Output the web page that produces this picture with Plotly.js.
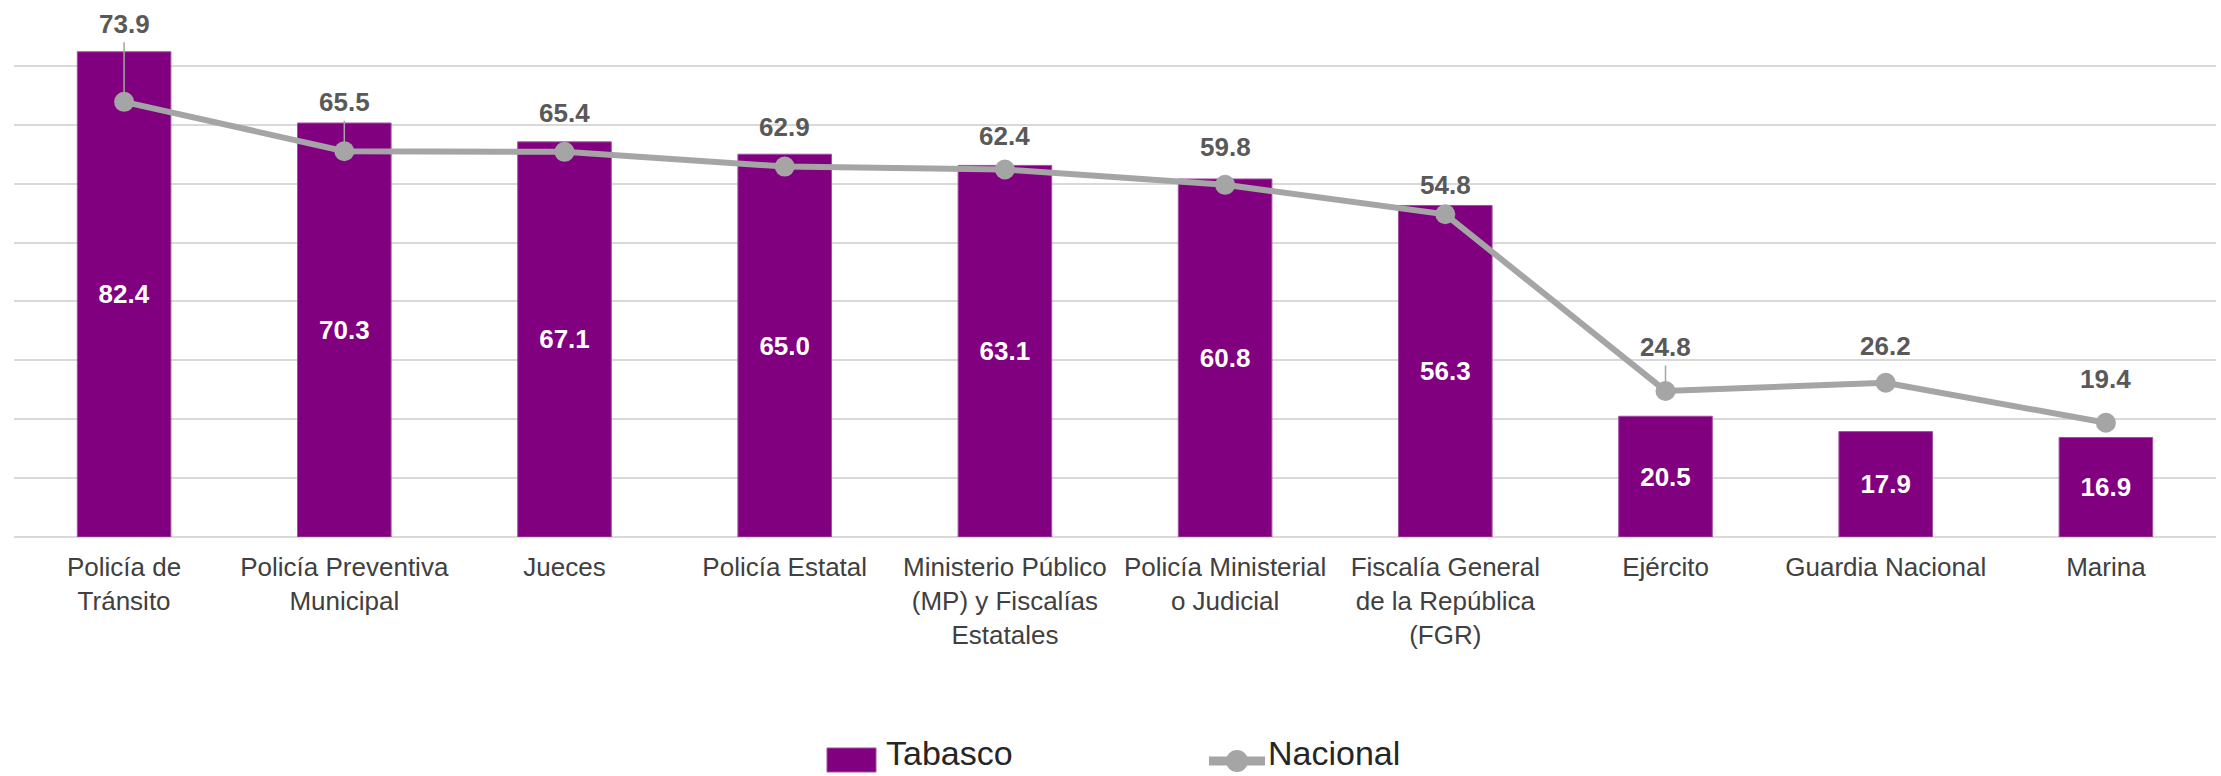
<!DOCTYPE html>
<html>
<head>
<meta charset="utf-8">
<script src="https://cdn.plot.ly/plotly-3.0.1.min.js"></script>
<style>
  html, body { margin: 0; padding: 0; background: #ffffff; overflow: hidden; }
  #chart { width: 2221px; height: 776px; }
</style>
</head>
<body>
<div id="chart"></div>
<script>
// ---- data ----
const categories = [
  "Policía de<br>Tránsito",
  "Policía Preventiva<br>Municipal",
  "Jueces",
  "Policía Estatal",
  "Ministerio Público<br>(MP) y Fiscalías<br>Estatales",
  "Policía Ministerial<br>o Judicial",
  "Fiscalía General<br>de la República<br>(FGR)",
  "Ejército",
  "Guardia Nacional",
  "Marina"
];
const tabasco  = [82.4, 70.3, 67.1, 65.0, 63.1, 60.8, 56.3, 20.5, 17.9, 16.9];
const nacional = [73.9, 65.5, 65.4, 62.9, 62.4, 59.8, 54.8, 24.8, 26.2, 19.4];
const seriesNames = ["Tabasco", "Nacional"];

// ---- style (label placement, px above each Nacional point) ----
const nacLabelLift = [78, 49, 39, 40, 34, 38, 29, 44, 37, 44];
const nacLeader    = [true, true, false, false, false, false, false, true, false, false];

const purple = "#800080";
const gray = "#a5a5a5";
const fontFam = "Liberation Sans, Arial, sans-serif";

const W = 2221, H = 776;
const M = { l: 14, r: 5, t: 7, b: 239 };
const pw = W - M.l - M.r, ph = H - M.t - M.b;
const px = v => (v - M.l) / pw;          // page px -> paper x
const py = v => (H - M.b - v) / ph;      // page px -> paper y

const traces = [
  {
    type: "bar",
    name: seriesNames[0],
    x: categories,
    y: tabasco,
    marker: { color: purple, line: { color: "#a050a0", width: 1 } },
    texttemplate: "%{y:.1f}",
    textposition: "inside",
    insidetextanchor: "middle",
    textangle: 0,
    constraintext: "none",
    textfont: { family: fontFam, size: 26, color: "#ffffff", weight: 700 },
    hoverinfo: "skip"
  },
  {
    type: "scatter",
    mode: "lines+markers",
    name: seriesNames[1],
    x: categories,
    y: nacional,
    line: { color: gray, width: 6 },
    marker: { color: gray, size: 20 },
    hoverinfo: "skip"
  }
];

const annotations = nacional.map((v, i) => {
  const a = {
    x: categories[i],
    y: v,
    xref: "x",
    yref: "y",
    text: v.toFixed(1),
    font: { family: fontFam, size: 26, color: "#595959", weight: 700 }
  };
  if (nacLeader[i]) {
    Object.assign(a, {
      showarrow: true, ax: 0, ay: -nacLabelLift[i],
      arrowhead: 0, arrowwidth: 1.5, arrowcolor: gray, standoff: 2, startstandoff: 2
    });
  } else {
    Object.assign(a, { showarrow: false, yshift: nacLabelLift[i] });
  }
  return a;
});

// ---- legend (drawn as shapes + text, Excel-style large swatches) ----
const legendFont = { family: fontFam, size: 34, color: "#262626" };
annotations.push(
  { xref: "paper", yref: "paper", x: px(884), y: py(753), xanchor: "left", yanchor: "middle",
    text: seriesNames[0], showarrow: false, font: legendFont },
  { xref: "paper", yref: "paper", x: px(1266), y: py(753), xanchor: "left", yanchor: "middle",
    text: seriesNames[1], showarrow: false, font: legendFont }
);
const shapes = [
  { type: "rect", xref: "paper", yref: "paper",
    x0: px(827), x1: px(876), y0: py(748), y1: py(772),
    fillcolor: purple, line: { color: "#a050a0", width: 1 } },
  { type: "line", xref: "paper", yref: "paper",
    x0: px(1209), x1: px(1265), y0: py(761), y1: py(761),
    line: { color: gray, width: 9 } },
  { type: "circle", xref: "paper", yref: "paper",
    x0: px(1226), x1: px(1248), y0: py(750), y1: py(772),
    fillcolor: gray, line: { color: gray, width: 0 } }
];

const layout = {
  width: W,
  height: H,
  margin: { l: M.l, r: M.r, t: M.t, b: M.b, pad: 0 },
  paper_bgcolor: "#ffffff",
  plot_bgcolor: "#ffffff",
  bargap: 0.575,
  showlegend: false,
  font: { family: fontFam, color: "#404040" },
  xaxis: {
    type: "category",
    range: [-0.5, categories.length - 0.5],
    showgrid: false,
    showline: false,
    ticks: "",
    ticklabelstandoff: 12,
    tickfont: { family: fontFam, size: 26, color: "#404040" },
    tickangle: 0,
    automargin: false,
    fixedrange: true
  },
  yaxis: {
    range: [0, 90],
    dtick: 10,
    tick0: 0,
    showticklabels: false,
    showgrid: true,
    gridcolor: "#d9d9d9",
    gridwidth: 2,
    zeroline: true,
    zerolinecolor: "#d9d9d9",
    zerolinewidth: 2,
    ticks: "",
    automargin: false,
    fixedrange: true
  },
  annotations: annotations,
  shapes: shapes
};

Plotly.newPlot("chart", traces, layout, { displayModeBar: false, staticPlot: true });
</script>
</body>
</html>
